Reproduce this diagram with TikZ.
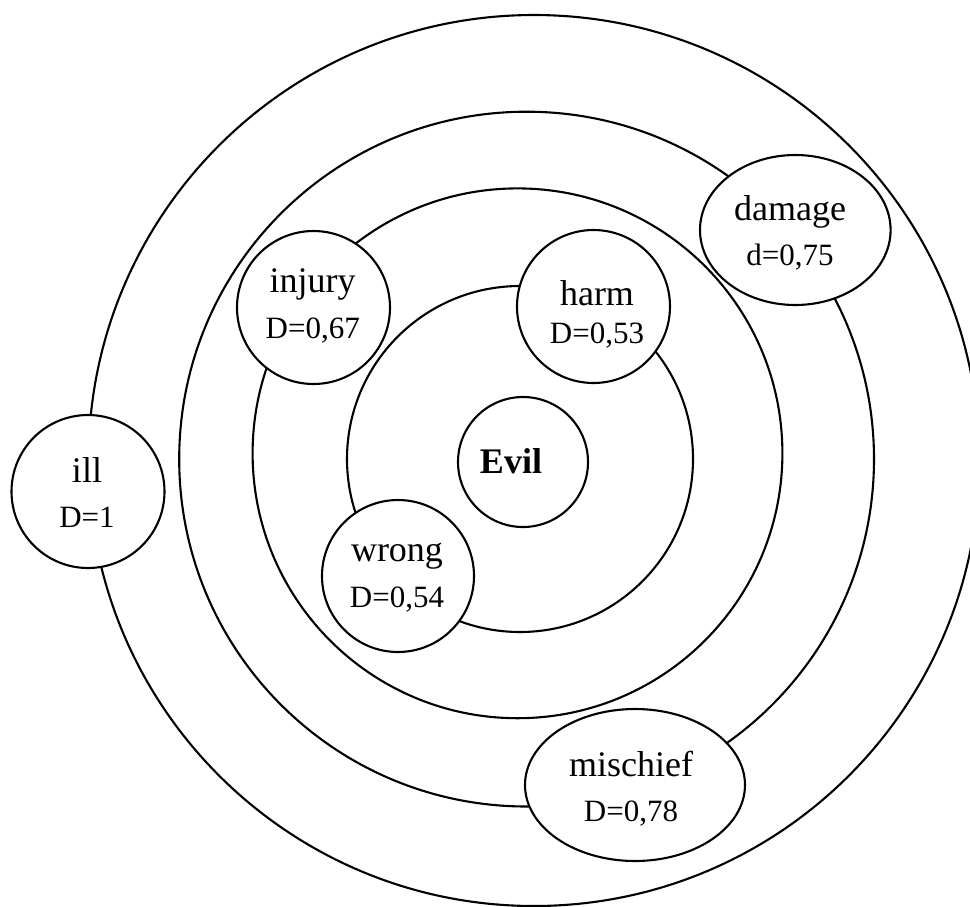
\documentclass[tikz,border=0pt]{standalone}
\usepackage{fontspec}
\setmainfont{Liberation Serif}
\usetikzlibrary{shapes.geometric}
\begin{document}
\begin{tikzpicture}[x=1pt,y=-1pt,line width=2.1pt,
  ringc/.style={draw,circle,inner sep=0pt,outer sep=0pt,minimum size=#1},
  bubble/.style={draw,circle,fill=white,inner sep=0pt,minimum size=#1},
  ellbubble/.style={draw,ellipse,fill=white,inner sep=0pt},
  wordtxt/.style={anchor=base,inner sep=0pt,font=\fontsize{36}{40}\selectfont},
  dtxt/.style={anchor=base,inner sep=0pt,font=\fontsize{31}{34}\selectfont},
  eviltxt/.style={anchor=base,inner sep=0pt,font=\fontsize{36}{40}\selectfont\bfseries}]
\clip (0,0) rectangle (970,906);
% concentric rings
\node[ringc=891pt] (ring4) at (534,460.5) {};
\node[ringc=694.8pt] (ring3) at (526.6,459.1) {};
\node[ringc=529.8pt] (ring2) at (517.5,453.3) {};
\node[ringc=346pt] (ring1) at (520,459) {};
% centre
\node[bubble=130pt] (evil) at (523,462) {};
\node[eviltxt] (evilt) at (511,473.3) {Evil};
% harm
\node[bubble=153pt] (harm) at (593.5,306.5) {};
\node[wordtxt] (harmw) at (597,305.7) {harm};
\node[dtxt] (harmd) at (597,343.5) {D=0,53};
% wrong
\node[bubble=152pt] (wrong) at (398,576) {};
\node[wordtxt] (wrongw) at (397,561) {wrong};
\node[dtxt] (wrongd) at (397,607.3) {D=0,54};
% injury
\node[bubble=153pt] (injury) at (313.5,307.5) {};
\node[wordtxt] (injuryw) at (312.7,292.7) {injury};
\node[dtxt] (injuryd) at (312.7,338.3) {D=0,67};
% damage
\node[ellbubble,minimum width=190.6pt,minimum height=150pt] (damage) at (795.3,230) {};
\node[wordtxt] (damagew) at (790,220) {damage};
\node[dtxt] (damaged) at (790,265) {d=0,75};
% mischief
\node[ellbubble,minimum width=220pt,minimum height=152pt] (mischief) at (635,785) {};
\node[wordtxt] (mischiefw) at (631,776.7) {mischief};
\node[dtxt] (mischiefd) at (631,821.7) {D=0,78};
% ill
\node[bubble=153pt] (ill) at (88,491.5) {};
\node[wordtxt] (illw) at (87,482.7) {ill};
\node[dtxt] (illd) at (87,527.7) {D=1};
\end{tikzpicture}
\end{document}
